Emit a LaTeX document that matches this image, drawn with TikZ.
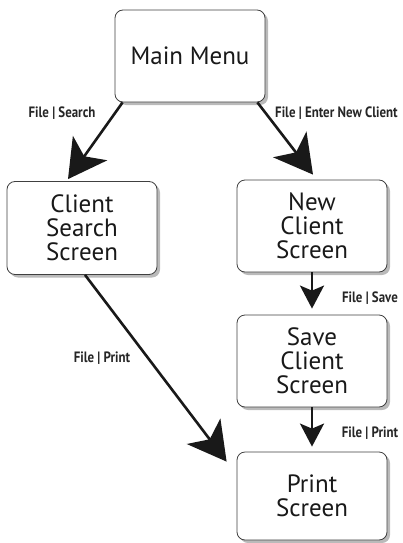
\documentclass[tikz,border=0pt]{standalone}
\usepackage{fontspec}
\setmainfont{PT Sans}
\newfontfamily\labelfont[FakeStretch=0.86]{PT Sans Bold}
\usetikzlibrary{arrows.meta,shadows}

\begin{document}
\begin{tikzpicture}[x=1pt,y=-1pt,
    screen/.style={draw=black!75,line width=.8pt,fill=white,rounded corners=8pt,
      minimum width=150pt,align=center,text=black!90,inner sep=0pt,
      font=\fontsize{25}{24}\selectfont,
      drop shadow={shadow xshift=3pt,shadow yshift=-3pt,opacity=.45,fill=black!60}},
    bigflow/.style={line width=2.6pt,black!90,-{Stealth[length=38pt,width=42pt,inset=10pt]}},
    flow/.style={line width=2.6pt,black!90,-{Stealth[length=23pt,width=24pt,inset=5pt]}},
    menu/.style={font=\labelfont\fontsize{15}{15}\selectfont,text=black!85,inner sep=0pt}]
  \useasboundingbox (0,0) rectangle (403,543);
  \node[screen,minimum height=92pt] (main) at (190,56) {Main Menu};
  \node[screen,minimum height=93pt] (search) at (82,228) {Client\\Search\\Screen};
  \node[screen,minimum height=92pt] (newc) at (312,226) {New\\Client\\Screen};
  \node[screen,minimum height=92pt] (save) at (312,361) {Save\\Client\\Screen};
  \node[screen,minimum height=88pt] (print) at (312,496) {Print\\Screen};
  \draw[bigflow] ([xshift=8pt]main.south west) -- ([xshift=-14pt,yshift=2pt]search.north);
  \draw[bigflow] ([xshift=-8pt]main.south east) -- ([xshift=1pt,yshift=5pt]newc.north);
  \draw[bigflow] ([xshift=3pt]search.south) -- ([xshift=-10pt,yshift=-10pt]print.north west);
  \draw[flow,shorten >=6pt] (newc) -- (save);
  \draw[flow,shorten >=5pt] (save) -- (print);
  \node[menu] (m1) at (62,113) {File | Search};
  \node[menu,anchor=west] (m2) at (275,113) {File | Enter New Client};
  \node[menu] (m3) at (370,298) {File | Save};
  \node[menu] (m4) at (102,358) {File | Print};
  \node[menu] (m5) at (370,433) {File | Print};
\end{tikzpicture}
\end{document}
